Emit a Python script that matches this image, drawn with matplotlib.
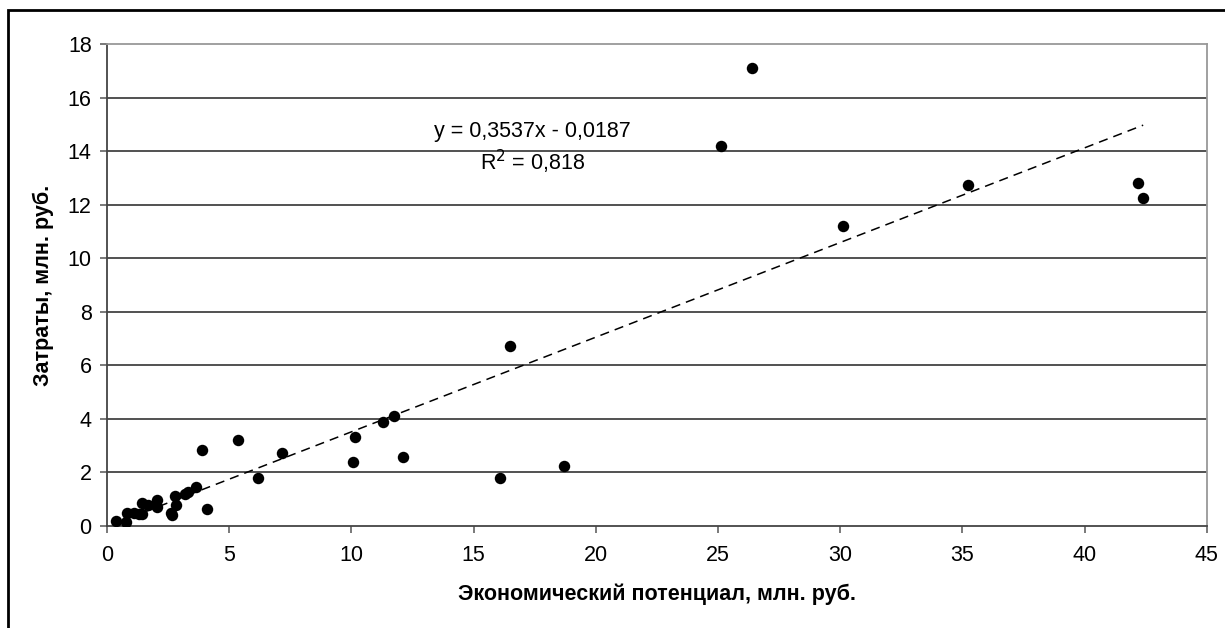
import matplotlib.pyplot as plt
import numpy as np
from matplotlib.patches import Rectangle

# Экономический потенциал (x) и затраты (y), млн. руб.
potential = [0.37, 0.77, 0.8, 1.12, 1.3, 1.45, 1.45, 1.67, 2.04, 2.04,
             2.61, 2.65, 2.81, 2.79, 3.2, 3.33, 3.63, 3.88, 4.11, 5.36,
             6.18, 7.18, 10.07, 10.14, 11.28, 11.76, 12.1, 16.09, 16.49, 18.72,
             25.12, 26.39, 30.12, 35.25, 42.2, 42.4]
costs = [0.2, 0.16, 0.47, 0.47, 0.45, 0.45, 0.85, 0.77, 0.97, 0.72,
         0.5, 0.42, 0.8, 1.12, 1.18, 1.26, 1.45, 2.84, 0.62, 3.21,
         1.8, 2.72, 2.4, 3.34, 3.9, 4.12, 2.59, 1.81, 6.73, 2.24,
         14.21, 17.1, 11.21, 12.74, 12.81, 12.25]

# trendline coefficients as shown on the chart
slope = 0.3537
intercept = -0.0187
r2 = 0.818

plt.rcParams['font.family'] = ['Liberation Sans', 'DejaVu Sans']

fig = plt.figure(figsize=(12.25, 6.28), dpi=100)
ax = fig.add_axes([107 / 1225, 1 - 526 / 628, (1206.7 - 107) / 1225, (526 - 44.3) / 628])

# outer chart border (right and bottom edges sit off the image)
fig.patches.append(Rectangle((8 / 1225, -0.05), 1.2, 1 - 10 / 628 + 0.05,
                             transform=fig.transFigure, fill=False,
                             edgecolor='black', linewidth=2))

# horizontal gridlines
for yv in np.arange(2, 18, 2):
    ax.axhline(yv, color='#222222', linewidth=1.1, zorder=1)

ax.scatter(potential, costs, s=68, color='black', zorder=3, linewidths=0)

xs = np.array([min(potential), max(potential)])
ax.plot(xs, slope * xs + intercept, color='black', linestyle=(0, (6, 4)),
        linewidth=1.1, zorder=2)

ax.text(17.4, 14.73, 'y = 0,3537x - 0,0187', ha='center', va='center', fontsize=15.5)
ax.text(17.4, 13.61, 'R$^2$ = 0,818', ha='center', va='center', fontsize=15.5)

ax.set_xlim(0, 45)
ax.set_ylim(0, 18)
ax.set_xticks(np.arange(0, 46, 5))
ax.set_yticks(np.arange(0, 19, 2))
ax.tick_params(axis='both', direction='out', length=5, width=1.1,
               color='#555555', labelsize=15.5)
ax.tick_params(axis='x', pad=9)
ax.tick_params(axis='y', pad=6)

for side in ['left', 'bottom']:
    ax.spines[side].set_color('#444444')
    ax.spines[side].set_linewidth(1.3)
for side in ['top', 'right']:
    ax.spines[side].set_color('#999999')
    ax.spines[side].set_linewidth(1.3)

ax.set_xlabel('Экономический потенциал, млн. руб.', fontsize=15.5, fontweight='bold', labelpad=12)
ax.set_ylabel('Затраты, млн. руб.', fontsize=15.5, fontweight='bold', labelpad=10)

fig.savefig('out.png', dpi=100)
